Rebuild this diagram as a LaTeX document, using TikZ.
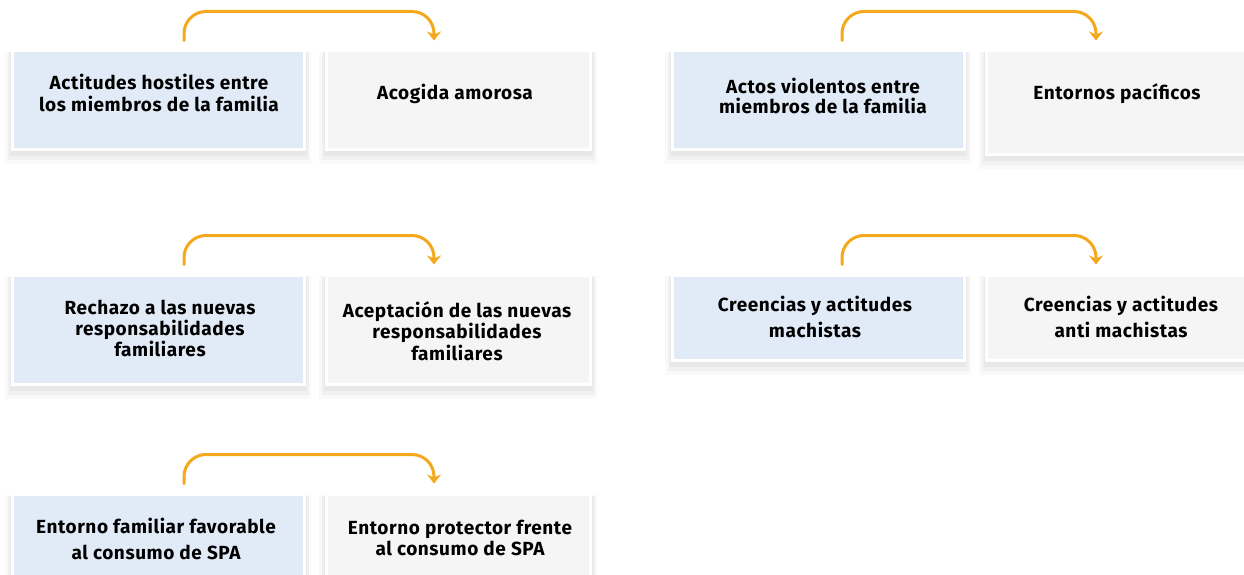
\documentclass[tikz,border=0pt]{standalone}
\usepackage{fontspec}
\setmainfont{Fira Sans}[BoldFont={Fira Sans Bold}, BoldFeatures={LetterSpace=3}]
\usetikzlibrary{arrows.meta,calc}
\definecolor{boxblue}{RGB}{225,235,247}
\definecolor{boxgrey}{RGB}{245,245,245}
\definecolor{arrorange}{RGB}{245,168,28}
\begin{document}
\begin{tikzpicture}[x=1pt,y=1pt,
  cbox/.style={draw=white, line width=3pt, inner sep=0pt,
    preaction={draw=black, draw opacity=0.025, line width=14pt, transform canvas={yshift=-8pt}},
    preaction={draw=black, draw opacity=0.03, line width=9pt, transform canvas={yshift=-6pt}},
    preaction={draw=black, draw opacity=0.035, line width=5pt, transform canvas={yshift=-4pt}}},
  lbox/.style={cbox, fill=boxblue, minimum width=292pt},
  rbox/.style={cbox, fill=boxgrey, minimum width=264pt},
  lbl/.style={align=center, inner sep=0pt, font=\bfseries\fontsize{19}{22}\selectfont},
  arr/.style={draw=arrorange, line width=3pt, line cap=round, rounded corners=22pt, -{Stealth[length=9pt,width=14pt,inset=3pt]}}
]
\useasboundingbox (0,-575) rectangle (1244,0);
\fill[white] (0,-575) rectangle (1244,0);
% row 1 left
\node[lbox, minimum height=98pt] (b1a) at (158,-100) {};
\node[rbox, minimum height=98pt] (b1b) at (458,-100) {};
\node[lbl] (t1a) at (159,-93) {Actitudes hostiles entre\\los miembros de la familia};
\node[lbl] (t1b) at (455,-94) {Acogida amorosa};
% row 1 right
\node[lbox, minimum height=98pt] (b2a) at (818,-100) {};
\node[rbox, minimum height=103pt] (b2b) at (1118,-102.5) {};
\node[lbl, font=\bfseries\fontsize{19}{20}\selectfont] (t2a) at (823,-96) {Actos violentos entre\\miembros de la familia};
\node[lbl] (t2b) at (1117,-94) {Entornos pacíficos};
% row 2 left
\node[lbox, minimum height=109pt] (b3a) at (158,-329.5) {};
\node[rbox, minimum height=109pt] (b3b) at (458,-329.5) {};
\node[lbl, font=\bfseries\fontsize{19}{21}\selectfont] (t3a) at (160,-328) {Rechazo a las nuevas\\responsabilidades\\familiares};
\node[lbl, font=\bfseries\fontsize{19}{21.5}\selectfont] (t3b) at (457,-331) {Aceptación de las nuevas\\responsabilidades\\familiares};
% row 2 right
\node[lbox, minimum height=85pt] (b4a) at (818,-317.5) {};
\node[rbox, minimum height=85pt] (b4b) at (1118,-317.5) {};
\node[lbl, font=\bfseries\fontsize{19}{26}\selectfont] (t4a) at (815,-317) {Creencias y actitudes\\machistas};
\node[lbl, font=\bfseries\fontsize{19}{26}\selectfont] (t4b) at (1121,-317) {Creencias y actitudes\\anti machistas};
% row 3
\node[lbox, minimum height=100pt] (b5a) at (158,-544) {};
\node[rbox, minimum height=100pt] (b5b) at (458,-544) {};
\node[lbl, font=\bfseries\fontsize{19}{26}\selectfont] (t5a) at (156,-539) {Entorno familiar favorable\\al consumo de SPA};
\node[lbl, font=\bfseries\fontsize{19}{21}\selectfont] (t5b) at (460,-538) {Entorno protector frente\\al consumo de SPA};
% arrows
\foreach \a/\b/\dx/\ex in {b1a/b1b/26/-24, b2a/b2b/24/-22, b3a/b3b/26/-24, b4a/b4b/24/-22, b5a/b5b/26/-24}{
  \coordinate (s-\a) at ($(\a.north)+(\dx,9)$);
  \coordinate (e-\a) at ($(\b.north)+(\ex,9)$);
  \draw[arr] (s-\a) -- ++(0,29) -| (e-\a);
}
\end{tikzpicture}
\end{document}
